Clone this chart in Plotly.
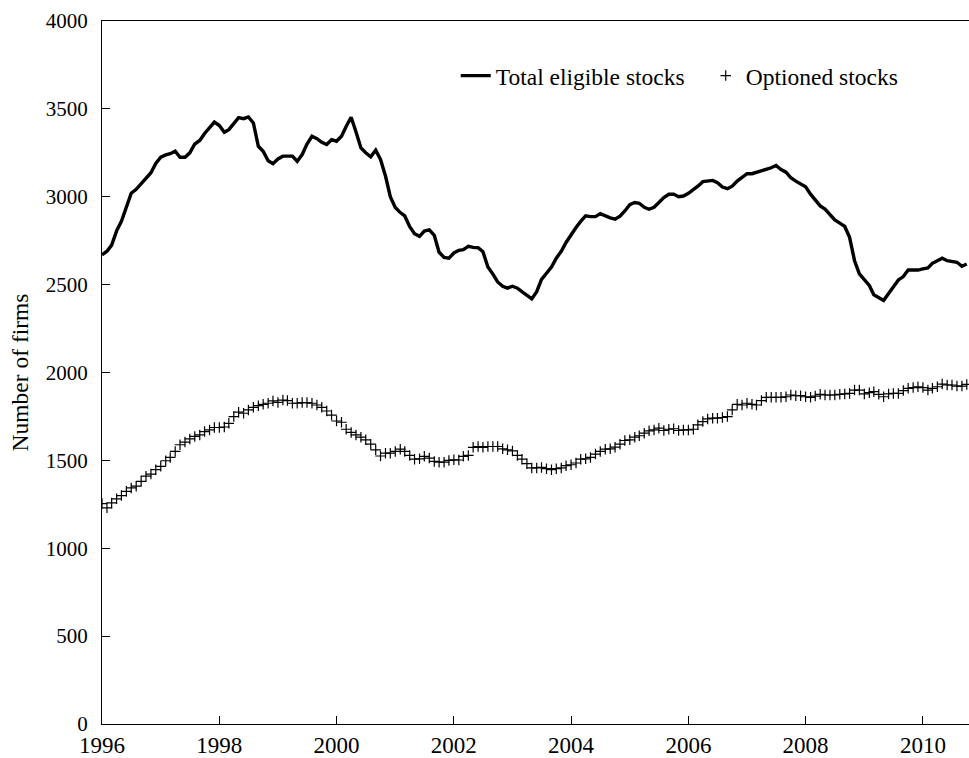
import pandas as pd
import plotly.graph_objects as go

start_month = "1996-01-01"

total_eligible = [
    2670, 2690, 2725, 2806, 2860, 2940, 3020, 3042, 3075, 3105,
    3137, 3190, 3225, 3238, 3245, 3259, 3225, 3225, 3250, 3300,
    3320, 3360, 3395, 3425, 3405, 3367, 3382, 3420, 3450, 3444,
    3454, 3420, 3287, 3259, 3205, 3188, 3215, 3231, 3231, 3231,
    3202, 3240, 3300, 3344, 3330, 3310, 3297, 3325, 3316, 3344,
    3400, 3452, 3370, 3278, 3250, 3227, 3265, 3212, 3118, 3000,
    2939, 2910, 2891, 2830, 2790, 2775, 2805, 2812, 2780, 2684,
    2655, 2650, 2680, 2695, 2699, 2718, 2712, 2710, 2687, 2600,
    2560, 2515, 2490, 2480, 2491, 2480, 2460, 2440, 2419, 2460,
    2530, 2565, 2600, 2650, 2690, 2740, 2785, 2825, 2860, 2891,
    2887, 2887, 2904, 2890, 2880, 2872, 2890, 2919, 2955, 2967,
    2963, 2940, 2929, 2940, 2967, 2995, 3014, 3015, 3000, 3004,
    3020, 3040, 3060, 3086, 3090, 3093, 3080, 3055, 3046, 3060,
    3089, 3110, 3131, 3131, 3138, 3146, 3155, 3165, 3178, 3155,
    3140, 3108, 3089, 3075, 3057, 3015, 2985, 2948, 2930, 2901,
    2868, 2850, 2831, 2769, 2636, 2561, 2530, 2495, 2442, 2425,
    2410, 2450, 2490, 2527, 2546, 2583, 2583, 2583, 2590, 2595,
    2621, 2635, 2650, 2636, 2630, 2627, 2604, 2617,
]

optioned = [
    1254, 1230, 1258, 1281, 1300, 1324, 1343, 1353, 1381, 1410,
    1422, 1447, 1466, 1498, 1517, 1551, 1589, 1604, 1622, 1636,
    1645, 1664, 1673, 1687, 1687, 1690, 1711, 1749, 1774, 1768,
    1787, 1802, 1811, 1819, 1825, 1838, 1830, 1843, 1840, 1825,
    1825, 1829, 1829, 1825, 1815, 1802, 1781, 1758, 1724, 1717,
    1677, 1659, 1645, 1632, 1617, 1592, 1560, 1525, 1541, 1541,
    1551, 1564, 1551, 1528, 1507, 1509, 1523, 1513, 1494, 1490,
    1490, 1500, 1503, 1502, 1523, 1528, 1574, 1579, 1574, 1579,
    1579, 1579, 1566, 1560, 1554, 1528, 1507, 1481, 1457, 1457,
    1460, 1453, 1447, 1453, 1457, 1470, 1475, 1485, 1507, 1509,
    1517, 1536, 1551, 1564, 1566, 1575, 1592, 1613, 1617, 1632,
    1640, 1655, 1668, 1673, 1683, 1670, 1677, 1680, 1670, 1673,
    1673, 1677, 1702, 1721, 1736, 1740, 1740, 1744, 1749, 1787,
    1819, 1815, 1825, 1819, 1815, 1840, 1859, 1859, 1859, 1859,
    1862, 1872, 1868, 1868, 1862, 1859, 1866, 1876, 1872, 1872,
    1872, 1876, 1878, 1881, 1900, 1900, 1878, 1885, 1891, 1876,
    1862, 1878, 1881, 1881, 1897, 1910, 1914, 1919, 1914, 1900,
    1910, 1919, 1934, 1929, 1929, 1923, 1923, 1932,
]

dates = pd.date_range(start_month, periods=len(total_eligible), freq="MS")

FONT = "Liberation Serif, Times New Roman, serif"

fig = go.Figure()
fig.add_trace(go.Scatter(
    x=dates, y=total_eligible, mode="lines", name="Total eligible stocks",
    line=dict(color="black", width=3.4),
))
fig.add_trace(go.Scatter(
    x=dates, y=optioned, mode="markers", name="Optioned stocks",
    marker=dict(symbol="cross-thin", size=7.5, color="black",
                line=dict(color="black", width=1.2)),
))

fig.update_layout(
    width=969, height=758,
    margin=dict(l=102, r=0, t=21, b=31),
    paper_bgcolor="white", plot_bgcolor="white",
    font=dict(family=FONT, size=22, color="black"),
    showlegend=True,
    legend=dict(
        orientation="h", x=0.408, y=0.922, xanchor="left", yanchor="middle",
        font=dict(family=FONT, size=23.5, color="black"),
        bgcolor="rgba(0,0,0,0)", itemwidth=30,
        entrywidth=205, entrywidthmode="pixels",
    ),
    xaxis=dict(
        type="date", range=["1996-01-01", "2010-10-15"],
        tick0="1996-01-01", dtick="M24", tickformat="%Y",
        ticks="inside", ticklen=8, tickcolor="black", tickwidth=1,
        showline=True, linecolor="black", linewidth=1.3, mirror=True,
        showgrid=False, zeroline=False,
        tickfont=dict(family=FONT, size=23),
    ),
    yaxis=dict(
        range=[0, 4000], dtick=500, tick0=0,
        ticks="inside", ticklen=8, tickcolor="black", tickwidth=1,
        showline=True, linecolor="black", linewidth=1.3, mirror=False,
        showgrid=False, zeroline=False,
        tickfont=dict(family=FONT, size=21),
        ticklabelstandoff=9,
        title=dict(text="Number of firms", font=dict(family=FONT, size=23.5),
                   standoff=10),
    ),
)

fig.write_html("out.html")
